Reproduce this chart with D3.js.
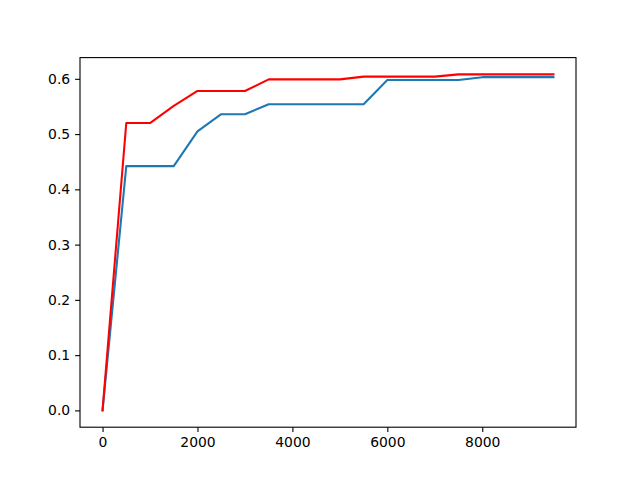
<!DOCTYPE html>
<html>
<head>
<meta charset="utf-8">
<script src="https://cdn.jsdelivr.net/npm/d3@7"></script>
<style>
  body { margin: 0; background: #fff; }
  svg { display: block; }
</style>
</head>
<body>
<svg id="chart" width="640" height="480"></svg>
<script>
// data
const steps = [0, 500, 1000, 1500, 2000, 2500, 3000, 3500, 4000, 4500,
               5000, 5500, 6000, 6500, 7000, 7500, 8000, 8500, 9000, 9500];
const blueValues = [0, 0.442, 0.442, 0.442, 0.505, 0.536, 0.536, 0.554, 0.554, 0.554,
                    0.554, 0.554, 0.598, 0.598, 0.598, 0.598, 0.603, 0.603, 0.603, 0.603];
const redValues = [0, 0.520, 0.520, 0.551, 0.578, 0.578, 0.578, 0.599, 0.599, 0.599,
                   0.599, 0.604, 0.604, 0.604, 0.604, 0.608, 0.608, 0.608, 0.608, 0.608];
const xTicks = [0, 2000, 4000, 6000, 8000];
const yTicks = [0.0, 0.1, 0.2, 0.3, 0.4, 0.5, 0.6];

const svg = d3.select("#chart");
const margin = { top: 57.6, right: 64, bottom: 52.8, left: 80 };
const width = 640, height = 480;

// matplotlib-style 5% padding on the data range
const xMin = d3.min(steps), xMax = d3.max(steps);
const yMin = d3.min([...blueValues, ...redValues]);
const yMax = d3.max([...blueValues, ...redValues]);
const xPad = (xMax - xMin) * 0.05, yPad = (yMax - yMin) * 0.05;

const x = d3.scaleLinear()
  .domain([xMin - xPad, xMax + xPad])
  .range([margin.left, width - margin.right]);
const y = d3.scaleLinear()
  .domain([yMin - yPad, yMax + yPad])
  .range([height - margin.bottom, margin.top]);

const line = d3.line()
  .x((d, i) => x(steps[i]))
  .y(d => y(d));

svg.append("path")
  .datum(blueValues)
  .attr("d", line)
  .attr("fill", "none")
  .attr("stroke", "#1f77b4")
  .attr("stroke-width", 2.08)
  .attr("stroke-linejoin", "round")
  .attr("stroke-linecap", "square");

svg.append("path")
  .datum(redValues)
  .attr("d", line)
  .attr("fill", "none")
  .attr("stroke", "red")
  .attr("stroke-width", 2.08)
  .attr("stroke-linejoin", "round")
  .attr("stroke-linecap", "square");

// axes
const xAxis = svg.append("g")
  .attr("transform", `translate(0,${height - margin.bottom})`)
  .call(d3.axisBottom(x).tickValues(xTicks).tickFormat(d3.format("d"))
    .tickSizeInner(4.9).tickSizeOuter(0).tickPadding(4.9));

const yAxis = svg.append("g")
  .attr("transform", `translate(${margin.left},0)`)
  .call(d3.axisLeft(y).tickValues(yTicks).tickFormat(d3.format(".1f"))
    .tickSizeInner(4.9).tickSizeOuter(0).tickPadding(4.9));

[xAxis, yAxis].forEach(g => {
  g.select(".domain").remove();
  g.selectAll(".tick line").attr("stroke", "#000").attr("stroke-width", 1.1);
  g.selectAll(".tick text")
    .attr("fill", "#000")
    .style("font-family", "DejaVu Sans, sans-serif")
    .style("font-size", "13.9px");
});

// frame
svg.append("rect")
  .attr("x", margin.left)
  .attr("y", margin.top)
  .attr("width", width - margin.left - margin.right)
  .attr("height", height - margin.top - margin.bottom)
  .attr("fill", "none")
  .attr("stroke", "#000")
  .attr("stroke-width", 1.1);
</script>
</body>
</html>
